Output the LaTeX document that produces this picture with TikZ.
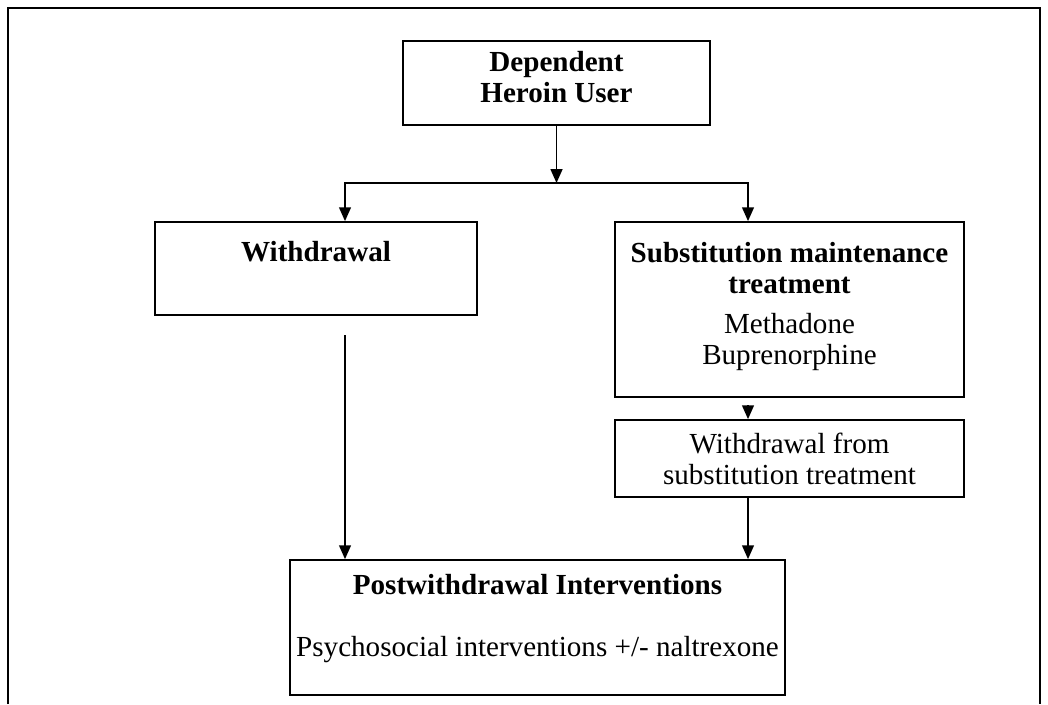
\documentclass[tikz,border=0pt]{standalone}
\usepackage{fontspec}
\setmainfont{Liberation Serif}
\usetikzlibrary{arrows.meta}
\def\px{0.4572pt}
\begin{document}
\begin{tikzpicture}[x=\px, y=-\px, font=\fontsize{13.3}{13.9}\selectfont,
    box/.style={draw, line width=0.8pt, inner sep=0pt},
    boldtxt/.style={align=center, font=\fontsize{13.3}{13.9}\selectfont\bfseries},
    flow/.style={-{Triangle[length=6.3pt,width=5.4pt]}, line width=0.7pt}]
    \useasboundingbox (0,0) rectangle (1048,704);
    \draw[line width=0.8pt] (8,704) -- (8,8) -- (1040,8) -- (1040,704);
    % boxes
    \node[box, minimum width=307*\px, minimum height=84*\px] (user) at (556.5,83) {};
    \node[box, minimum width=322*\px, minimum height=93*\px] (wd) at (316,268.5) {};
    \node[box, minimum width=349*\px, minimum height=175*\px] (sub) at (789.5,309.5) {};
    \node[box, minimum width=349*\px, minimum height=77*\px] (wfs) at (789.5,458.5) {};
    \node[box, minimum width=495*\px, minimum height=135*\px] (post) at (537.5,627.5) {};
    % texts
    \node[boldtxt] (usertxt) at (556.5,77) {Dependent\\Heroin User};
    \node[boldtxt] (wdtxt) at (316,252) {Withdrawal};
    \node[boldtxt] (subtxt) at (789.5,268) {Substitution maintenance\\treatment};
    \node[align=center] (drugs) at (789.5,342) {Methadone\\Buprenorphine};
    \node[align=center] (wfstxt) at (789.5,459) {Withdrawal from\\substitution treatment};
    \node[boldtxt] (posttxt) at (537.5,585) {Postwithdrawal Interventions};
    \node (psych) at (537.5,650) {Psychosocial interventions +/- naltrexone};
    % connectors
    \coordinate (split) at (556.5,183);
    \coordinate (jl) at (345,183);
    \coordinate (jr) at (748,183);
    \coordinate (wdgap) at (345,335);
    \coordinate (subgap) at (748,405);
    \draw[flow] (user) -- (split);
    \draw[flow] (jr) -- (jl) -- (jl |- wd.north);
    \draw[flow] (jl) -- (jr) -- (jr |- sub.north);
    \draw[flow] (wdgap) -- (wdgap |- post.north);
    \draw[flow] (subgap) -- (subgap |- wfs.north);
    \draw[flow] (subgap |- wfs.south) -- (subgap |- post.north);
\end{tikzpicture}
\end{document}
